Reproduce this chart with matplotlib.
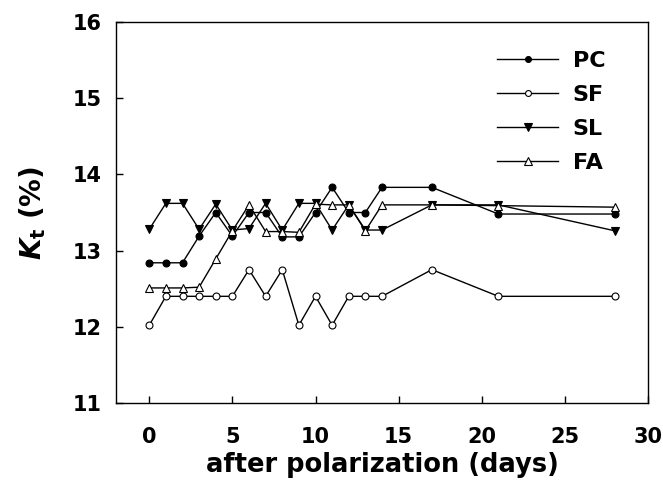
import matplotlib
matplotlib.use("Agg")
import matplotlib.pyplot as plt

plt.rcParams['font.family'] = ['DejaVu Sans']
plt.rcParams['font.weight'] = 'bold'
plt.rcParams['mathtext.fontset'] = 'custom'
plt.rcParams['mathtext.it'] = 'DejaVu Sans:italic:bold'
plt.rcParams['mathtext.rm'] = 'DejaVu Sans:bold'
plt.rcParams['mathtext.bf'] = 'DejaVu Sans:bold'

days = [0, 1, 2, 3, 4, 5, 6, 7, 8, 9, 10, 11, 12, 13, 14, 17, 21, 28]
pc = [12.84, 12.84, 12.84, 13.19, 13.50, 13.19, 13.50, 13.50, 13.18, 13.18, 13.50, 13.83, 13.50, 13.50, 13.83, 13.83, 13.48, 13.48]
sf = [12.02, 12.40, 12.40, 12.40, 12.40, 12.40, 12.75, 12.40, 12.75, 12.02, 12.40, 12.02, 12.40, 12.40, 12.40, 12.75, 12.40, 12.40]
sl = [13.28, 13.62, 13.62, 13.28, 13.61, 13.27, 13.29, 13.62, 13.27, 13.62, 13.62, 13.27, 13.60, 13.27, 13.27, 13.60, 13.60, 13.26]
fa = [12.51, 12.51, 12.51, 12.52, 12.89, 13.26, 13.60, 13.25, 13.25, 13.24, 13.61, 13.60, 13.60, 13.26, 13.60, 13.60, 13.59, 13.57]

xticks = [0, 5, 10, 15, 20, 25, 30]
yticks = [11, 12, 13, 14, 15, 16]

fig = plt.figure(figsize=(6.63, 4.97), dpi=100)
ax = fig.add_axes([116/663, 1 - 403/497, (648-116)/663, (403-22)/497])

ms = 5
ax.plot(days, pc, '-', color='black', lw=1, marker='o', ms=ms, mfc='black', mec='black', mew=0.8, label='PC')
ax.plot(days, sf, '-', color='black', lw=1, marker='o', ms=ms, mfc='white', mec='black', mew=0.8, label='SF')
ax.plot(days, sl, '-', color='black', lw=1, marker='v', ms=ms+1, mfc='black', mec='black', mew=0.8, label='SL')
ax.plot(days, fa, '-', color='black', lw=1, marker='^', ms=ms+1, mfc='white', mec='black', mew=0.8, label='FA')

ax.set_xlim(-2, 30)
ax.set_ylim(11, 16)
ax.set_xticks(xticks)
ax.set_yticks(yticks)
ax.tick_params(direction='in', length=5, width=1, labelsize=15, top=False, right=False)
ax.tick_params(axis='x', pad=17)
ax.tick_params(axis='y', pad=10)
for lab in ax.get_xticklabels() + ax.get_yticklabels():
    lab.set_fontweight('bold')
for s in ax.spines.values():
    s.set_linewidth(1)

ax.set_xlabel('after polarization (days)', fontsize=18.5, fontweight='bold', labelpad=4)
ax.set_ylabel(r'$K_{\mathrm{t}}$ (%)', fontsize=20, fontweight='bold', labelpad=18)

leg = ax.legend(loc='upper left', bbox_to_anchor=((497-116)/532, 1 - (51-22)/381), frameon=False,
                fontsize=16, handlelength=2.75, handletextpad=0.65, labelspacing=0.63,
                markerscale=0.85, borderaxespad=0, borderpad=0)
for t in leg.get_texts():
    t.set_fontweight('bold')

fig.savefig('out.png', dpi=100)
